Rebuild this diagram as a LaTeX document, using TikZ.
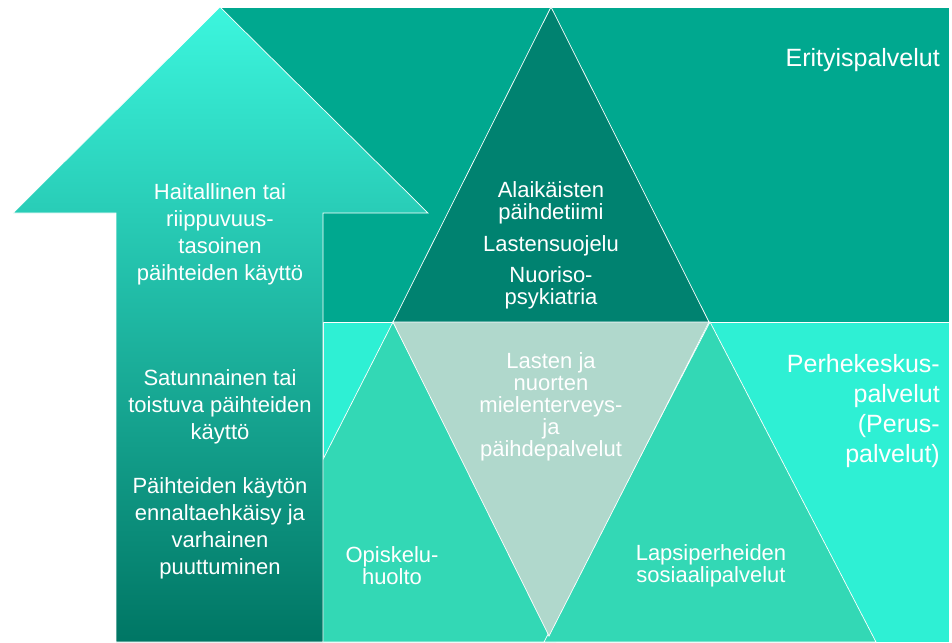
\documentclass[tikz,border=0pt]{standalone}
\usepackage{fontspec}
\setmainfont{Liberation Sans}
\definecolor{topband}{RGB}{0,168,143}
\definecolor{botband}{RGB}{46,240,212}
\definecolor{darktri}{RGB}{0,130,112}
\definecolor{midtri}{RGB}{51,216,181}
\definecolor{graytri}{RGB}{176,216,204}
\definecolor{arrtop}{RGB}{60,246,222}
\definecolor{arrmid}{RGB}{0,192,162}
\definecolor{arrbot}{RGB}{0,118,100}
\tikzset{
  shapeline/.style={draw=white, line width=0.7pt, line join=miter},
  lbl/.style={text=white, inner sep=0pt, align=center, font=\fontsize{22}{27}\selectfont},
  lbltight/.style={lbl, font=\fontsize{22}{22}\selectfont},
  lblbig/.style={text=white, inner sep=0pt, align=right, anchor=east, font=\fontsize{25}{30}\selectfont}
}
\begin{document}
\begin{tikzpicture}[x=1pt,y=-1pt]
\useasboundingbox (0,0) rectangle (952,642);
% bands
\filldraw[shapeline, fill=topband] (220,7) rectangle (949,322);
\filldraw[shapeline, fill=botband] (323,322) rectangle (949,642);
% triangles
\filldraw[shapeline, fill=midtri] (393,322) -- (230,642) -- (556,642) -- cycle;
\filldraw[shapeline, fill=midtri] (710,322) -- (544,642) -- (876,642) -- cycle;
\filldraw[shapeline, fill=graytri] (393,322) -- (709,322) -- (549,636) -- cycle;
\filldraw[shapeline, fill=darktri] (551,7) -- (393,322) -- (709,322) -- cycle;
% arrow
\shadedraw[shapeline, top color=arrtop, middle color=arrmid, bottom color=arrbot]
  (220,7) -- (428,213) -- (323,213) -- (323,642) -- (116,642) -- (116,213) -- (13,213) -- cycle;
% labels in arrow
\node[lbl] (harm) at (220,234) {Haitallinen tai\\riippuvuus-\\tasoinen\\päihteiden käyttö};
\node[lbl] (occ) at (220,407) {Satunnainen tai\\toistuva päihteiden\\käyttö};
\node[lbl] (prev) at (220,528) {Päihteiden käytön\\ennaltaehkäisy ja\\varhainen\\puuttuminen};
% top triangle labels
\node[lbltight] (ala) at (551,203) {Alaikäisten\\päihdetiimi};
\node[lbltight] (lsu) at (551,246) {Lastensuojelu};
\node[lbltight] (nuo) at (551,288) {Nuoriso-\\psykiatria};
% gray triangle
\node[lbltight] (mie) at (551,407) {Lasten ja\\nuorten\\mielenterveys-\\ja\\päihdepalvelut};
% lower triangles
\node[lbltight] (opi) at (392,566) {Opiskelu-\\huolto};
\node[lbltight] (lap) at (711,566) {Lapsiperheiden\\sosiaalipalvelut};
% band titles
\node[lblbig] (eri) at (940,60) {Erityispalvelut};
\node[lblbig] (per) at (940,411) {Perhekeskus-\\palvelut\\(Perus-\\palvelut)};
\end{tikzpicture}
\end{document}
